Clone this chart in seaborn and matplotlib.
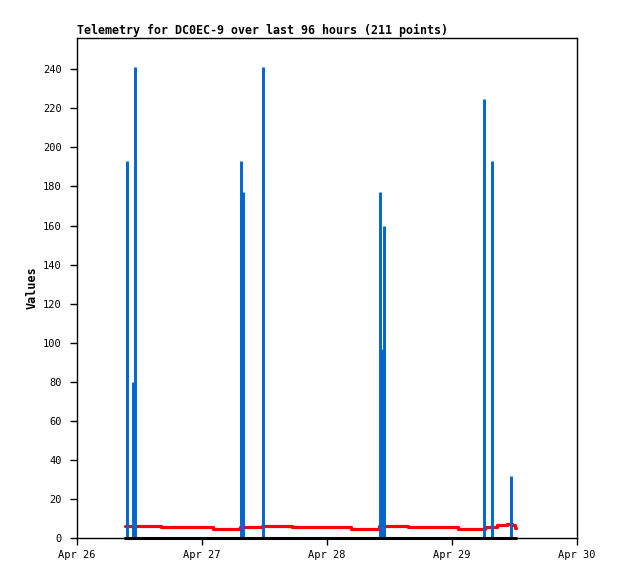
import matplotlib
matplotlib.use("Agg")
import matplotlib.dates as mdates
import matplotlib.pyplot as plt
import pandas as pd
import seaborn as sns

# hours after Apr 26 00:00
start = pd.Timestamp("2025-04-26 00:00")

spike_hours = [9.6, 10.75, 11.1, 31.5, 31.8, 35.7, 58.2, 58.4, 58.6, 58.9, 78.2, 79.7, 83.3]
spike_values = [193, 80, 241, 193, 177, 241, 177, 48, 97, 160, 225, 193, 32]

avg_hours = [9.2, 16.1, 26.1, 31.3, 35.5, 41.3, 52.6, 58.0, 63.6, 73.2, 78.3, 80.6, 82.6, 83.5, 84.0, 84.3]
avg_values = [6.1, 5.5, 4.8, 5.8, 6.1, 5.5, 4.8, 6.0, 5.5, 4.8, 5.8, 6.5, 7.0, 6.5, 5.0, 5.0]

base_hours = [9.2, 84.3]
base_values = [0, 0]

x_ticks = ["2025-04-26", "2025-04-27", "2025-04-28", "2025-04-29", "2025-04-30"]

sns.set_style("white")
plt.rcParams["font.family"] = ["DejaVu Sans Mono"]
plt.rcParams["font.size"] = 7
plt.rcParams["text.color"] = "black"
plt.rcParams["axes.labelcolor"] = "black"
plt.rcParams["xtick.color"] = "black"
plt.rcParams["ytick.color"] = "black"

avg_df = pd.DataFrame({"time": start + pd.to_timedelta(avg_hours, unit="h"), "value": avg_values})
base_df = pd.DataFrame({"time": start + pd.to_timedelta(base_hours, unit="h"), "value": base_values})
spike_times = start + pd.to_timedelta(spike_hours, unit="h")

fig = plt.figure(figsize=(6.18, 5.79), dpi=100)
ax = fig.add_axes([77 / 618, 41 / 579, 500 / 618, 500 / 579])

sns.lineplot(data=avg_df, x="time", y="value", ax=ax, color="#ff0000", linewidth=2.3,
             drawstyle="steps-post")
ax.vlines(spike_times, 0, spike_values, color="#0066cc", linewidth=2.1)
sns.lineplot(data=base_df, x="time", y="value", ax=ax, color="black", linewidth=2.2)
for ln in ax.lines:
    ln.set_clip_on(False)

ax.set_ylim(0, 256)
ax.set_yticks(range(0, 241, 20))
ticks = pd.to_datetime(x_ticks)
ax.set_xlim(ticks[0], ticks[-1])
ax.set_xticks(ticks)
ax.xaxis.set_major_formatter(mdates.DateFormatter("%b %d"))

for sp in ax.spines.values():
    sp.set_color("black")
    sp.set_linewidth(1.0)
ax.tick_params(axis="both", direction="out", length=5, width=1, color="black",
               labelcolor="black", labelsize=7.5)
ax.tick_params(axis="y", pad=6)
ax.tick_params(axis="x", pad=4)
ax.tick_params(bottom=True, left=True)

ax.set_xlabel("")
ax.set_ylabel("Values", fontweight="bold", fontsize=8.5, labelpad=3)
ax.set_title("Telemetry for DC0EC-9 over last 96 hours (211 points)", loc="left",
             fontweight="bold", fontsize=8.4, pad=3, color="black")

fig.savefig("out.png", dpi=100)
